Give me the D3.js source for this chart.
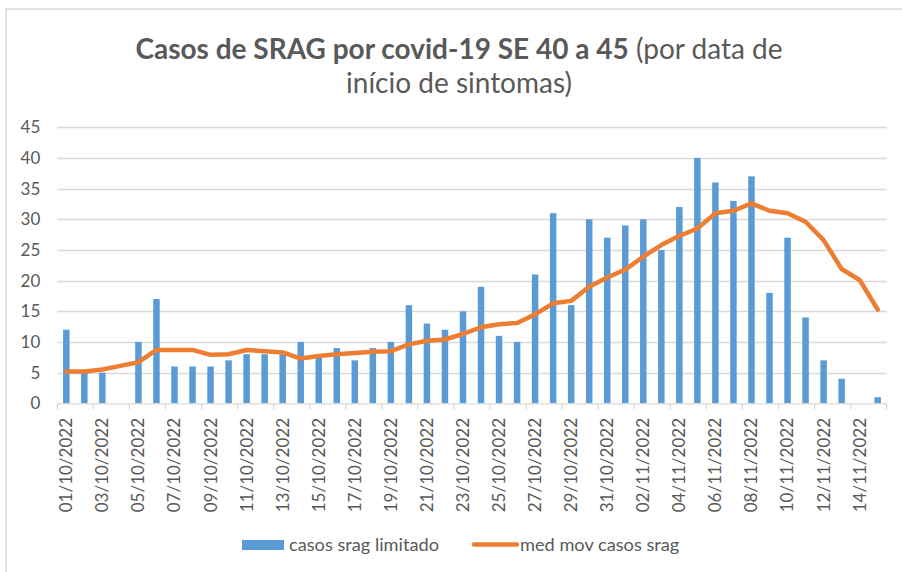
<!DOCTYPE html>
<html>
<head>
<meta charset="utf-8">
<script src="https://cdn.jsdelivr.net/npm/d3@7/dist/d3.min.js"></script>
<style>
  body { margin: 0; background: #fff; }
  svg { display: block; font-family: Lato, 'Open Sans', sans-serif; }
</style>
</head>
<body>
<div id="chart"></div>
<script>
// categories (data de início de sintomas)
const dates = [
  '01/10/2022','02/10/2022','03/10/2022','04/10/2022','05/10/2022','06/10/2022','07/10/2022',
  '08/10/2022','09/10/2022','10/10/2022','11/10/2022','12/10/2022','13/10/2022','14/10/2022',
  '15/10/2022','16/10/2022','17/10/2022','18/10/2022','19/10/2022','20/10/2022','21/10/2022',
  '22/10/2022','23/10/2022','24/10/2022','25/10/2022','26/10/2022','27/10/2022','28/10/2022',
  '29/10/2022','30/10/2022','31/10/2022','01/11/2022','02/11/2022','03/11/2022','04/11/2022',
  '05/11/2022','06/11/2022','07/11/2022','08/11/2022','09/11/2022','10/11/2022','11/11/2022',
  '12/11/2022','13/11/2022','14/11/2022','15/11/2022'
];

// casos srag limitado
const casos = [
  12, 5, 5, 0, 10, 17, 6, 6, 6, 7, 8, 8, 8, 10, 8, 9,
  7, 9, 10, 16, 13, 12, 15, 19, 11, 10, 21, 31, 16, 30,
  27, 29, 30, 25, 32, 40, 36, 33, 37, 18, 27, 14, 7, 4, 0, 1
];

// med mov casos srag
const medMov = [
  5.2, 5.2, 5.5, 6.1, 6.7, 8.7, 8.7, 8.7, 7.9, 8.0, 8.7, 8.5, 8.3, 7.3, 7.7, 8.0,
  8.2, 8.4, 8.5, 9.6, 10.2, 10.4, 11.3, 12.4, 12.9, 13.1, 14.5, 16.3, 16.7, 19.0,
  20.5, 21.8, 23.9, 25.8, 27.3, 28.5, 31.0, 31.4, 32.6, 31.4, 31.0, 29.6, 26.6, 21.9, 20.1, 15.3
];

const yTicks = [0, 5, 10, 15, 20, 25, 30, 35, 40, 45];

const W = 902, H = 572;
const textColor = '#595959';
const gridColor = '#d9d9d9';
const barColor = '#5b9bd5';
const lineColor = '#ed7d31';

const svg = d3.select('#chart').append('svg')
  .attr('width', W)
  .attr('height', H);

// chart area border (right / bottom edges fall outside the picture)
svg.append('rect')
  .attr('x', 6).attr('y', 9)
  .attr('width', W + 20).attr('height', H + 20)
  .attr('fill', '#fff')
  .attr('stroke', gridColor)
  .attr('stroke-width', 1.5);

const x = d3.scaleBand().domain(dates).range([57.3, 886.7]).padding(0);
const y = d3.scaleLinear().domain([0, 45]).range([403.3, 127.3]);

// title
const title = svg.append('text')
  .attr('text-anchor', 'middle')
  .attr('fill', textColor)
  .attr('font-size', 28);
title.append('tspan')
  .attr('x', 459).attr('y', 59)
  .attr('font-weight', 'bold')
  .text('Casos de SRAG por covid-19 SE 40 a 45');
title.append('tspan')
  .text(' (por data de');
title.append('tspan')
  .attr('x', 459).attr('y', 93)
  .text('início de sintomas)');

// gridlines
svg.append('g')
  .selectAll('line')
  .data(yTicks.filter(d => d > 0))
  .join('line')
  .attr('x1', x.range()[0]).attr('x2', x.range()[1])
  .attr('y1', d => Math.round(y(d)) + 0.5).attr('y2', d => Math.round(y(d)) + 0.5)
  .attr('stroke', gridColor)
  .attr('stroke-width', 1.3);

// y axis labels
const yAxis = svg.append('g')
  .attr('transform', `translate(${x.range()[0]},0)`)
  .call(d3.axisLeft(y).tickValues(yTicks).tickSize(0).tickPadding(17));
yAxis.select('.domain').remove();
yAxis.selectAll('text')
  .attr('fill', textColor)
  .attr('font-size', 17)
  .style('font-family', 'Lato, sans-serif');

// bars
const barW = x.bandwidth() * 0.36;
svg.append('g')
  .selectAll('rect')
  .data(casos)
  .join('rect')
  .attr('x', (d, i) => x(dates[i]) + (x.bandwidth() - barW) / 2)
  .attr('y', d => y(d))
  .attr('width', barW)
  .attr('height', d => y(0) - y(d))
  .attr('fill', barColor);

// x axis line + tick marks at every second category boundary
const xAxisG = svg.append('g');
xAxisG.append('line')
  .attr('x1', x.range()[0]).attr('x2', x.range()[1])
  .attr('y1', y(0) + 0.5).attr('y2', y(0) + 0.5)
  .attr('stroke', gridColor)
  .attr('stroke-width', 1.3);
const boundaries = d3.range(0, dates.length + 1, 2)
  .map(i => i < dates.length ? x(dates[i]) : x.range()[1]);
xAxisG.selectAll('.tick-mark')
  .data(boundaries)
  .join('line')
  .attr('class', 'tick-mark')
  .attr('x1', d => d).attr('x2', d => d)
  .attr('y1', y(0)).attr('y2', y(0) + 6)
  .attr('stroke', gridColor)
  .attr('stroke-width', 1.3);

// x labels, rotated
xAxisG.selectAll('.xlabel')
  .data(dates.filter((d, i) => i % 2 === 0))
  .join('text')
  .attr('class', 'xlabel')
  .attr('transform', d => `translate(${x(d) + x.bandwidth() / 2},418) rotate(-90)`)
  .attr('text-anchor', 'end')
  .attr('dy', '0.35em')
  .attr('fill', textColor)
  .attr('font-size', 17)
  .text(d => d);

// moving average line
const line = d3.line()
  .x((d, i) => x(dates[i]) + x.bandwidth() / 2)
  .y(d => y(d));
svg.append('path')
  .datum(medMov)
  .attr('d', line)
  .attr('fill', 'none')
  .attr('stroke', lineColor)
  .attr('stroke-width', 4.5)
  .attr('stroke-linejoin', 'round')
  .attr('stroke-linecap', 'round');

// legend
const legend = svg.append('g').attr('font-size', 18.2).attr('fill', textColor);
legend.append('rect')
  .attr('x', 242).attr('y', 540)
  .attr('width', 42).attr('height', 10)
  .attr('fill', barColor);
legend.append('text')
  .attr('x', 289).attr('y', 545).attr('dy', '0.35em')
  .text('casos srag limitado');
legend.append('line')
  .attr('x1', 474).attr('x2', 517)
  .attr('y1', 544.5).attr('y2', 544.5)
  .attr('stroke', lineColor)
  .attr('stroke-width', 4.5)
  .attr('stroke-linecap', 'round');
legend.append('text')
  .attr('x', 520).attr('y', 545).attr('dy', '0.35em')
  .text('med mov casos srag');
</script>
</body>
</html>
